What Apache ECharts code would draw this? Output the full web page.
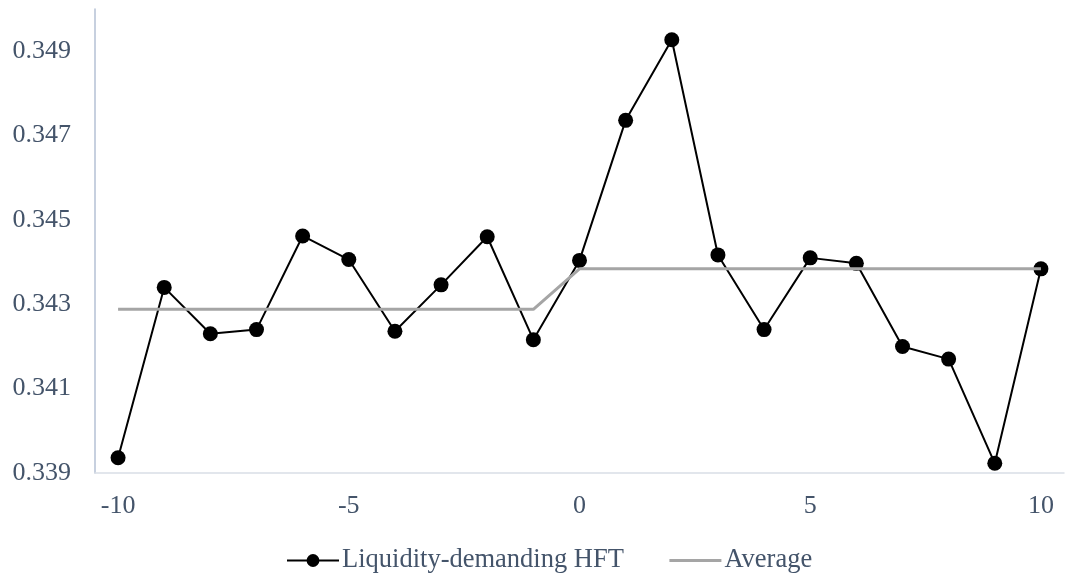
<!DOCTYPE html>
<html lang="en">
<head>
    <meta charset="UTF-8">
    <title>Liquidity-demanding HFT</title>
    <script src="https://cdn.jsdelivr.net/npm/echarts@6/dist/echarts.min.js"></script>
    <style>
        html, body { margin: 0; padding: 0; background: #fff; }
        #main { width: 1065px; height: 575px; }
    </style>
</head>
<body>
<div id="main"></div>
<script>
    // event time -10 .. 10
    var days = [-10, -9, -8, -7, -6, -5, -4, -3, -2, -1, 0, 1, 2, 3, 4, 5, 6, 7, 8, 9, 10];
    var hftValues = [0.33936, 0.34340, 0.34230, 0.34240, 0.34462, 0.34406, 0.34236, 0.34346, 0.34460, 0.34216,
        0.34404, 0.34736, 0.34927, 0.34417, 0.34240, 0.34410, 0.34397, 0.34200, 0.34170, 0.33923, 0.34384];
    var avgValues = [0.34288, 0.34288, 0.34288, 0.34288, 0.34288, 0.34288, 0.34288, 0.34288, 0.34288, 0.34288,
        0.34384, 0.34384, 0.34384, 0.34384, 0.34384, 0.34384, 0.34384, 0.34384, 0.34384, 0.34384, 0.34384];
    var yTicks = [0.339, 0.341, 0.343, 0.345, 0.347, 0.349];

    var textColor = '#44546A';
    var font = '"Liberation Serif", "Times New Roman", serif';

    var myChart = echarts.init(document.getElementById('main'));

    var option = {
        animation: false,
        grid: {
            left: 95,
            right: 1,
            top: 9,
            bottom: 102
        },
        legend: {
            top: 542,
            left: 281,
            itemWidth: 52,
            itemHeight: 16,
            itemGap: 44,
            textStyle: { color: textColor, fontFamily: font, fontSize: 26.5, padding: [0, 0, 0, -2] },
            data: [
                { name: 'Liquidity-demanding HFT', lineStyle: { width: 2 } },
                { name: 'Average', itemStyle: { opacity: 0 }, lineStyle: { width: 3 } }
            ]
        },
        xAxis: {
            type: 'category',
            data: days,
            boundaryGap: true,
            axisLine: { lineStyle: { color: '#D9DEE6', width: 1.5 } },
            axisTick: { show: false },
            axisLabel: {
                interval: 4,
                color: textColor,
                fontFamily: font,
                fontSize: 26,
                margin: 20
            },
            splitLine: { show: false }
        },
        yAxis: {
            type: 'value',
            min: 0.339,
            max: 0.350,
            axisLine: { show: true, lineStyle: { color: '#B4C0D4', width: 1.5 } },
            axisTick: { show: false },
            splitLine: { show: false },
            axisLabel: {
                customValues: yTicks,
                color: textColor,
                fontFamily: font,
                fontSize: 26,
                margin: 24,
                formatter: function (v) { return v.toFixed(3); }
            }
        },
        series: [
            {
                name: 'Liquidity-demanding HFT',
                type: 'line',
                data: hftValues,
                symbol: 'circle',
                symbolSize: 15,
                z: 3,
                lineStyle: { color: '#000', width: 2 },
                itemStyle: { color: '#000' }
            },
            {
                name: 'Average',
                type: 'line',
                data: avgValues,
                symbol: 'none',
                z: 4,
                lineStyle: { color: '#A5A5A5', width: 3 },
                itemStyle: { color: '#A5A5A5' }
            }
        ]
    };

    myChart.setOption(option);
</script>
</body>
</html>
